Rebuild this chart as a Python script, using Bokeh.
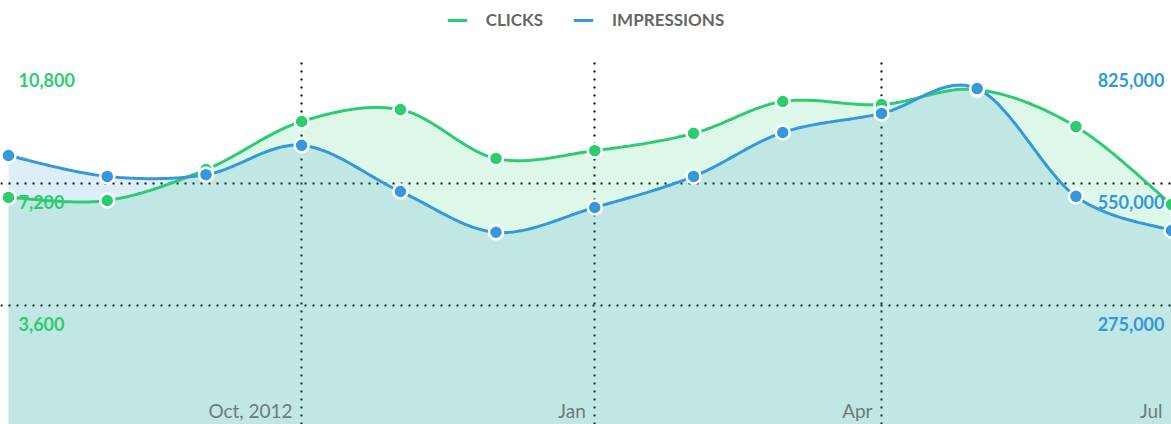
import numpy as np
import pandas as pd
from bokeh.plotting import figure
from bokeh.models import Range1d, Grid, FixedTicker, BoxAnnotation
from bokeh.core.properties import value
from bokeh.embed import file_html
from bokeh.resources import INLINE

# ---- data ----
months = ["2012-07-01", "2012-08-01", "2012-09-01", "2012-10-01", "2012-11-01",
          "2012-12-01", "2013-01-01", "2013-02-01", "2013-03-01", "2013-04-01",
          "2013-05-01", "2013-06-01", "2013-07-01"]
clicks = [6790, 6700, 7610, 9030, 9380, 7940, 8170, 8680, 9620, 9530, 9970, 8880, 6580]
impressions = [613000, 566000, 570000, 636000, 532000, 440000, 496000, 566000,
               665000, 708000, 764000, 521000, 444000]
x_ticks = ["2012-10-01", "2013-01-01", "2013-04-01", "2013-07-01"]
x_tick_labels = ["Oct, 2012", "Jan", "Apr", "Jul"]
clicks_ticks = [3600, 7200, 10800]
clicks_tick_labels = ["3,600", "7,200", "10,800"]
imp_ticks = [275000, 550000, 825000]
imp_tick_labels = ["275,000", "550,000", "825,000"]

GREEN = "#2ecc71"
BLUE = "#3498db"
FONT = "Lato"

def to_ms(dates):
    return (pd.to_datetime(dates).astype("int64") // 10**6).astype(float).to_numpy()

xm = to_ms(months)
xt = to_ms(x_ticks)

def catmull(xs, ys, n=40):
    P = np.column_stack([xs, ys]).astype(float)
    P = np.vstack([P[0], P, P[-1]])
    out = []
    for i in range(1, len(P) - 2):
        p0, p1, p2, p3 = P[i - 1], P[i], P[i + 1], P[i + 2]
        t = np.linspace(0, 1, n, endpoint=(i == len(P) - 3))[:, None]
        seg = 0.5 * (2 * p1 + (-p0 + p2) * t + (2 * p0 - 5 * p1 + 4 * p2 - p3) * t ** 2
                     + (-p0 + 3 * p1 - 3 * p2 + p3) * t ** 3)
        out.append(seg)
    out = np.vstack(out)
    return out[:, 0], out[:, 1]

cx, cy = catmull(xm, clicks)
ix, iy = catmull(xm, impressions)

day = 86400000.0
x_start = xm[0] - 2.5 * day
x_end = xm[-1]
c_lo, c_hi = 88.5, 12600.0
i_lo, i_hi = 6762.0, 962500.0
grid_top = 10918.0   # plot body starts here; legend strip above it

p = figure(width=1171, height=424, output_backend="svg", toolbar_location=None,
           x_axis_type="datetime", x_axis_location=None, y_axis_location=None,
           x_range=Range1d(x_start, x_end), y_range=Range1d(c_lo, c_hi),
           min_border=0, outline_line_color=None)
p.extra_y_ranges = {"imp": Range1d(i_lo, i_hi)}
for g in p.grid:
    g.visible = False

xg = Grid(dimension=0, ticker=FixedTicker(ticks=list(xt)), grid_line_color="black",
          grid_line_dash="2 6", grid_line_width=2)
yg = Grid(dimension=1, ticker=FixedTicker(ticks=clicks_ticks[:2]), grid_line_color="black",
          grid_line_dash="2 6", grid_line_width=2)
p.add_layout(xg, "center")
p.add_layout(yg, "center")
# white legend strip hides the grid lines above the plot body
p.add_layout(BoxAnnotation(bottom=grid_top, fill_color="white", fill_alpha=1,
                           line_color=None, level="underlay"), "center")

# areas
p.varea(x=cx, y1=0, y2=cy, fill_color=GREEN, fill_alpha=0.16)
p.varea(x=ix, y1=0, y2=iy, fill_color=BLUE, fill_alpha=0.16, y_range_name="imp")
# lines
p.line(cx, cy, line_color=GREEN, line_width=3, legend_label="CLICKS")
p.line(ix, iy, line_color=BLUE, line_width=3, legend_label="IMPRESSIONS", y_range_name="imp")
# points
p.scatter(xm, clicks, size=14, fill_color=GREEN, line_color="white", line_width=2.5)
p.scatter(xm, impressions, size=14, fill_color=BLUE, line_color="white", line_width=2.5,
          y_range_name="imp")

# x tick labels
p.text(x=xt, y=[c_lo] * len(xt), text=x_tick_labels, text_align="right",
       text_baseline="middle", x_offset=-9, y_offset=-14,
       text_font=value(FONT), text_font_size="19px", text_color="#6f7a7a")
# y tick labels
p.text(x=[x_start] * 3, y=clicks_ticks, text=clicks_tick_labels, text_align="left",
       text_baseline="middle", x_offset=18, y_offset=19,
       text_font=value(FONT), text_font_size="18px", text_font_style="bold", text_color=GREEN)
p.text(x=[x_end] * 3, y=imp_ticks, text=imp_tick_labels, text_align="right",
       text_baseline="middle", x_offset=-7, y_offset=19, y_range_name="imp",
       text_font=value(FONT), text_font_size="18px", text_font_style="bold", text_color=BLUE)

lg = p.legend[0]
lg.location = "top_center"
lg.orientation = "horizontal"
lg.border_line_color = None
lg.background_fill_alpha = 0
lg.margin = 9
lg.padding = 10
lg.spacing = 30
lg.glyph_width = 20
lg.label_standoff = 19
lg.label_text_font = FONT
lg.label_text_font_size = "17px"
lg.label_text_font_style = "bold"
lg.label_text_color = "#666666"

open("out.html", "w").write(file_html(p, INLINE))
